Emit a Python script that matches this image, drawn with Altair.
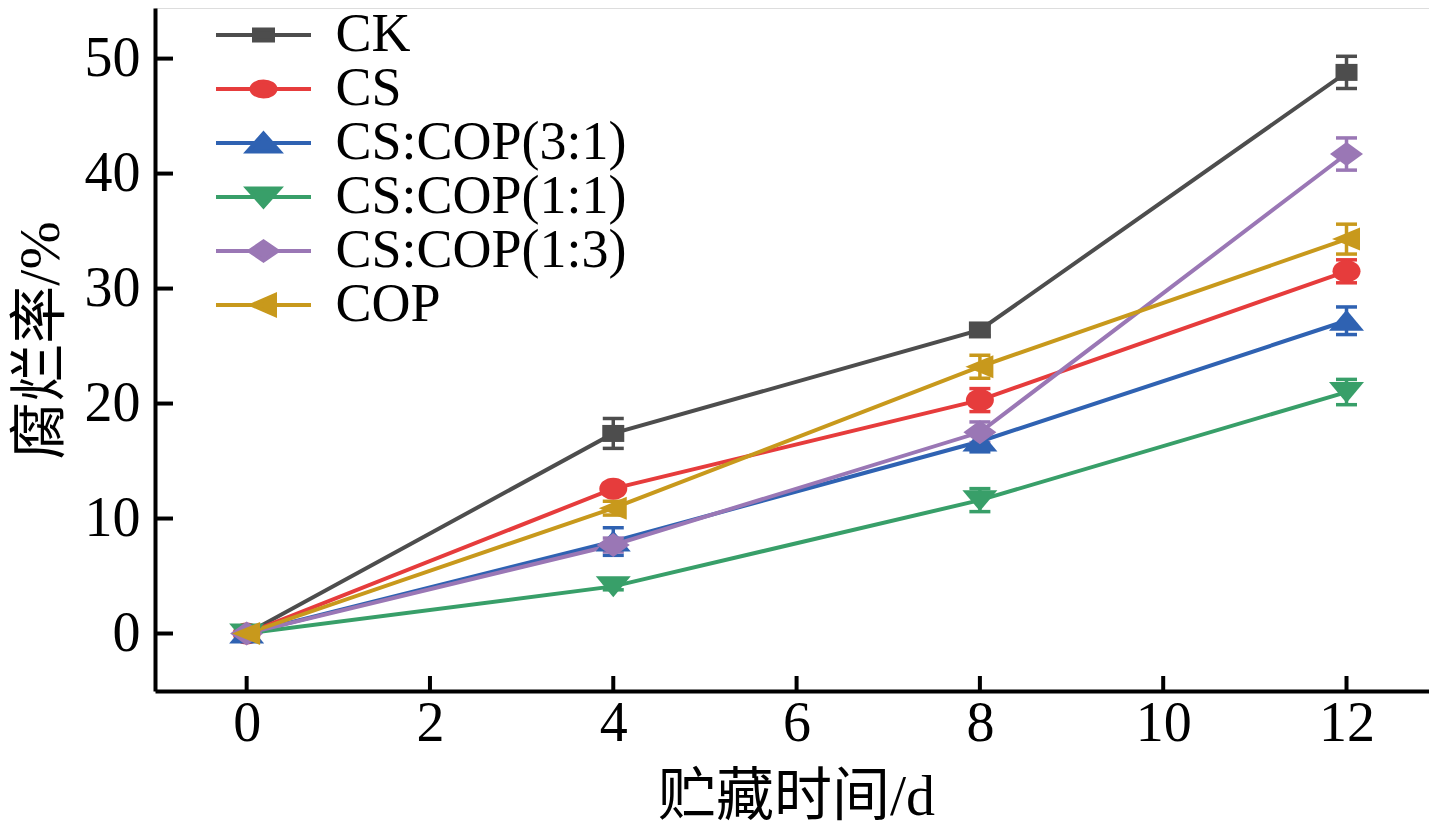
import altair as alt
import pandas as pd

# ---------------- data ----------------
days = [0, 4, 8, 12]
series_names = ["CK", "CS", "CS:COP(3:1)", "CS:COP(1:1)", "CS:COP(1:3)", "COP"]
ck = [0, 17.4, 26.4, 48.8]
cs = [0, 12.6, 20.3, 31.5]
cs_cop_31 = [0, 8.0, 16.7, 27.2]
cs_cop_11 = [0, 4.1, 11.6, 21.0]
cs_cop_13 = [0, 7.7, 17.5, 41.7]
cop = [0, 10.9, 23.2, 34.3]
ck_err = [0.3, 1.3, 0.5, 1.4]
cs_err = [0.2, 0.5, 1.0, 1.0]
cs_cop_31_err = [0.2, 1.2, 0.9, 1.2]
cs_cop_11_err = [0.2, 0.3, 1.0, 1.1]
cs_cop_13_err = [0.2, 0.6, 0.9, 1.4]
cop_err = [0.2, 0.6, 1.0, 1.3]
y_ticks = [0, 10, 20, 30, 40, 50]
x_ticks = [0, 2, 4, 6, 8, 10, 12]

# ---------------- styles ----------------
colors = ["#4d4d4d", "#e63c3c", "#2f62b2", "#389f69", "#9a77b5", "#c8991c"]
marker_paths = [
    "M-1.1,-0.85H1.1V0.85H-1.1Z",
    "M-1.4,0A1.4,1.1,0,1,1,1.4,0A1.4,1.1,0,1,1,-1.4,0Z",
    "M0,-1.1L1.75,1.0L-1.75,1.0Z",
    "M0,1.1L1.75,-1.0L-1.75,-1.0Z",
    "M0,-1.2L1.65,0L0,1.2L-1.65,0Z",
    "M-1.45,0L1.35,-1.15L1.35,1.15Z",
]
legend_line = "M-4.75,0H4.75"
legend_paths = [
    legend_line + "M-0.95,-0.55H0.95V0.55H-0.95Z",
    legend_line + "M-1.2,0A1.2,0.75,0,1,1,1.2,0A1.2,0.75,0,1,1,-1.2,0Z",
    legend_line + "M0,-0.95L1.6,0.85L-1.6,0.85Z",
    legend_line + "M0,0.95L1.6,-0.85L-1.6,-0.85Z",
    legend_line + "M0,-0.95L1.4,0L0,0.95L-1.4,0Z",
    legend_line + "M-1.15,0L1.15,-1.0L1.15,1.0Z",
]
FONT = "Liberation Serif, Noto Sans CJK SC"
W, H = 1274, 683

values = [ck, cs, cs_cop_31, cs_cop_11, cs_cop_13, cop]
errs = [ck_err, cs_err, cs_cop_31_err, cs_cop_11_err, cs_cop_13_err, cop_err]
rows = []
for i, name in enumerate(series_names):
    for d, v, e in zip(days, values[i], errs[i]):
        rows.append({"series": name, "order": i, "day": d, "value": v,
                     "lo": v - e, "hi": v + e,
                     "hex": colors[i], "marker": marker_paths[i]})
df = pd.DataFrame(rows)

xs = alt.Scale(domain=[-1, 12.9], nice=False, zero=False)
ys = alt.Scale(domain=[-5, 54.4], nice=False, zero=False)

x_enc = alt.X("day:Q", scale=xs, axis=alt.Axis(
    values=x_ticks, format="d", title="贮藏时间/d", grid=False, ticks=False, tickSize=0,
    domainColor="black", domainWidth=4, labelFont=FONT, labelFontSize=56,
    labelColor="black", labelPadding=5, labelBaseline="top",
    titleFont=FONT, titleFontSize=58, titleFontWeight="normal", titleColor="black",
    titleX=641, titleY=106, titleBaseline="middle", titleAnchor="middle"))
y_enc = alt.Y("value:Q", scale=ys, axis=alt.Axis(
    values=y_ticks, format="d", title="腐烂率/%", grid=False, ticks=False, tickSize=0,
    domainColor="black", domainWidth=4, labelFont=FONT, labelFontSize=56,
    labelColor="black", labelPadding=15,
    titleFont=FONT, titleFontSize=58, titleFontWeight="normal", titleColor="black",
    titleX=-114, titleY=332, titleBaseline="middle", titleAngle=-90))

base = alt.Chart(df)
lines = base.mark_line(strokeWidth=4).encode(
    x=x_enc, y=y_enc, color=alt.Color("hex:N", scale=None), detail="series:N",
    order="day:Q")
err_rule = base.mark_rule(strokeWidth=3.5).encode(
    x="day:Q", y="lo:Q", y2="hi:Q", color=alt.Color("hex:N", scale=None))
err_lo = base.mark_tick(orient="horizontal", size=21, thickness=3.5, opacity=1).encode(
    x="day:Q", y="lo:Q", color=alt.Color("hex:N", scale=None))
err_hi = base.mark_tick(orient="horizontal", size=21, thickness=3.5, opacity=1).encode(
    x="day:Q", y="hi:Q", color=alt.Color("hex:N", scale=None))
points = base.mark_point(filled=True, size=400, opacity=1, strokeWidth=0).encode(
    x="day:Q", y="value:Q",
    shape=alt.Shape("marker:N", scale=None),
    color=alt.Color("hex:N", scale=None),
    order="order:Q")

ytick_df = pd.DataFrame({"v": y_ticks})
xtick_df = pd.DataFrame({"v": x_ticks})
yticks = alt.Chart(ytick_df).mark_rule(strokeWidth=4, color="black").encode(
    y="v:Q", x=alt.value(0), x2=alt.value(18))
xticks = alt.Chart(xtick_df).mark_rule(strokeWidth=4, color="black").encode(
    x="v:Q", y=alt.value(H), y2=alt.value(H - 15))

leg = alt.Legend(title=None, orient="none", legendX=44, legendY=0, padding=0,
                 symbolSize=400, symbolStrokeWidth=4, symbolOffset=37.5,
                 labelOffset=45, labelFont=FONT, labelFontSize=54,
                 labelColor="black", labelLimit=600, rowPadding=0,
                 symbolOpacity=1)
cscale = alt.Scale(domain=series_names, range=colors)
legend_layer = base.mark_point(filled=True, size=400, opacity=1, strokeWidth=4,
                               clip=True).encode(
    x=alt.value(-3000), y=alt.value(-3000),
    color=alt.Color("series:N", scale=cscale, legend=leg, sort=series_names),
    stroke=alt.Stroke("series:N", scale=cscale, legend=leg, sort=series_names),
    shape=alt.Shape("series:N", scale=alt.Scale(domain=series_names, range=legend_paths),
                    legend=leg, sort=series_names))

chart = alt.layer(lines, err_rule, err_lo, err_hi, points, yticks, xticks,
                  legend_layer).properties(
    width=W, height=H,
    padding={"left": 147, "top": 0, "right": 0, "bottom": 140},
    autosize=alt.AutoSizeParams(type="none"),
).configure_view(stroke=None).configure(background="white")

chart.save("out.html", embed_options={"renderer": "svg", "actions": False})
